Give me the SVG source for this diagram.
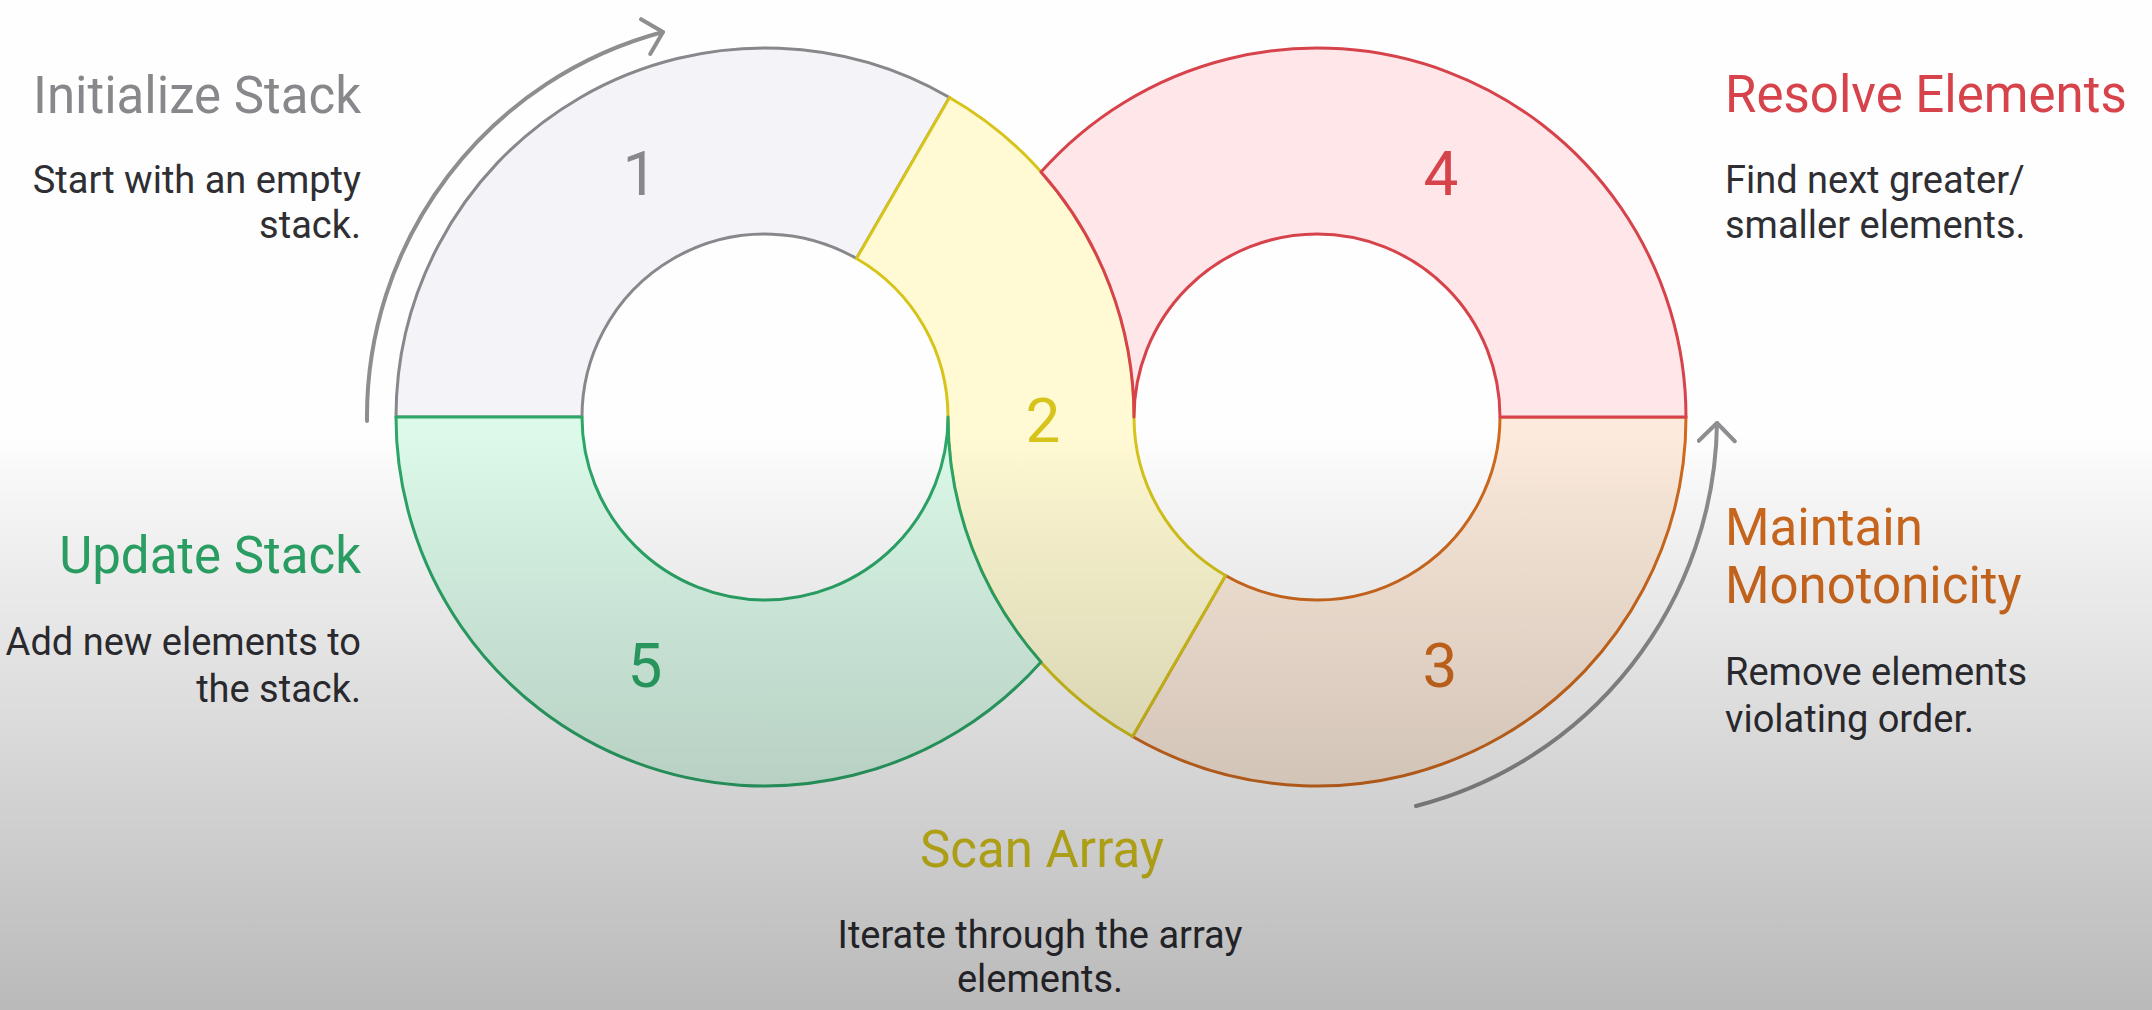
<svg xmlns="http://www.w3.org/2000/svg" width="2152" height="1010" viewBox="0 0 2152 1010">
  <defs>
    <style>
      .seg { stroke-width: 3; stroke-linejoin: round; }
      .num { font-family: Roboto, "Liberation Sans", sans-serif; font-size: 62px; text-anchor: middle; }
      .title { font-family: Roboto, "Liberation Sans", sans-serif; font-size: 51px; }
      .desc { font-family: Roboto, "Liberation Sans", sans-serif; font-size: 38px; fill: #2e2e33; }
      .end { text-anchor: end; }
      .mid { text-anchor: middle; }
      .flow { fill: none; stroke: #8e8e90; stroke-width: 4; stroke-linecap: round; }
    </style>
    <marker id="chevron" markerUnits="userSpaceOnUse" markerWidth="40" markerHeight="40" viewBox="-30 -20 40 40" refX="0" refY="0" orient="auto">
      <path d="M -18,-18 L 0,0 L -18,18" fill="none" stroke="#8e8e90" stroke-width="4" stroke-linecap="round" stroke-linejoin="round"/>
    </marker>
    <linearGradient id="shade" x1="0" y1="0" x2="0" y2="1">
      <stop offset="0" stop-color="#000" stop-opacity="0"/>
      <stop offset="0.43" stop-color="#000" stop-opacity="0"/>
      <stop offset="0.5" stop-color="#000" stop-opacity="0.04"/>
      <stop offset="1" stop-color="#000" stop-opacity="0.27"/>
    </linearGradient>
  </defs>

  <rect width="2152" height="1010" fill="#fefefe"/>

  <!-- step 1: upper-left quarter of the left ring -->
  <g id="node-1">
    <path class="seg" fill="#f4f3f7" stroke="#88888c" d="M 396,417 A 369 369 0 0 1 949.5,97.44 L 856.5,258.52 A 183 183 0 0 0 582,417 Z"/>
    <text class="num" x="640" y="195" fill="#88888c">1</text>
    <text class="title end" x="361" y="113" fill="#88888c">Initialize Stack</text>
    <text class="desc end" x="361" y="193">Start with an empty</text>
    <text class="desc end" x="361" y="238">stack.</text>
  </g>

  <!-- step 3: lower-right part of the right ring -->
  <g id="node-3">
    <path class="seg" fill="#fcebdc" stroke="#d06a1e" d="M 1686,417 A 369 369 0 0 1 1132.5,736.56 L 1225.5,575.48 A 183 183 0 0 0 1500,417 Z"/>
    <text class="num" x="1440" y="687" fill="#d06a1e">3</text>
    <text class="title" x="1725" y="545" fill="#d06a1e">Maintain</text>
    <text class="title" x="1725" y="603" fill="#d06a1e">Monotonicity</text>
    <text class="desc" x="1725" y="685">Remove elements</text>
    <text class="desc" x="1725" y="732">violating order.</text>
  </g>

  <!-- step 2: crossing band between both rings -->
  <g id="node-2">
    <path class="seg" fill="#fffad3" stroke="#d6c41b" d="M 949.5,97.44 A 369 369 0 0 1 1134,417 A 183 183 0 0 0 1225.5,575.48 L 1132.5,736.56 A 369 369 0 0 1 948,417 A 183 183 0 0 0 856.5,258.52 Z"/>
    <text class="num" x="1043" y="442" fill="#d6c41b">2</text>
    <text class="title mid" x="1042" y="867" fill="#d6c41b">Scan Array</text>
    <text class="desc mid" x="1040" y="948">Iterate through the array</text>
    <text class="desc mid" x="1040" y="992">elements.</text>
  </g>

  <!-- step 5: lower half of the left ring -->
  <g id="node-5">
    <path class="seg" fill="#dcfaea" stroke="#2ca768" d="M 396,417 L 582,417 A 183 183 0 0 0 948,417 A 369 369 0 0 0 1041,661.9 A 369 369 0 0 1 396,417 Z"/>
    <text class="num" x="645" y="687" fill="#2ca768">5</text>
    <text class="title end" x="361" y="573" fill="#2ca768">Update Stack</text>
    <text class="desc end" x="361" y="655">Add new elements to</text>
    <text class="desc end" x="361" y="702">the stack.</text>
  </g>

  <!-- step 4: upper half of the right ring -->
  <g id="node-4">
    <path class="seg" fill="#ffe6e8" stroke="#d6434b" d="M 1686,417 L 1500,417 A 183 183 0 0 0 1134,417 A 369 369 0 0 0 1041,172.1 A 369 369 0 0 1 1686,417 Z"/>
    <text class="num" x="1441" y="195" fill="#d6434b">4</text>
    <text class="title" x="1725" y="112" fill="#d6434b">Resolve Elements</text>
    <text class="desc" x="1725" y="193">Find next greater/</text>
    <text class="desc" x="1725" y="238">smaller elements.</text>
  </g>

  <!-- circular flow arrows -->
  <g id="connectors">
    <path class="flow" marker-end="url(#chevron)" d="M 367,421 A 398 398 0 0 1 663,32"/>
    <path class="flow" marker-end="url(#chevron)" d="M 1416,806 A 401 401 0 0 0 1717,423"/>
  </g>

  <!-- soft shading toward the bottom -->
  <rect width="2152" height="1010" fill="url(#shade)"/>
</svg>
